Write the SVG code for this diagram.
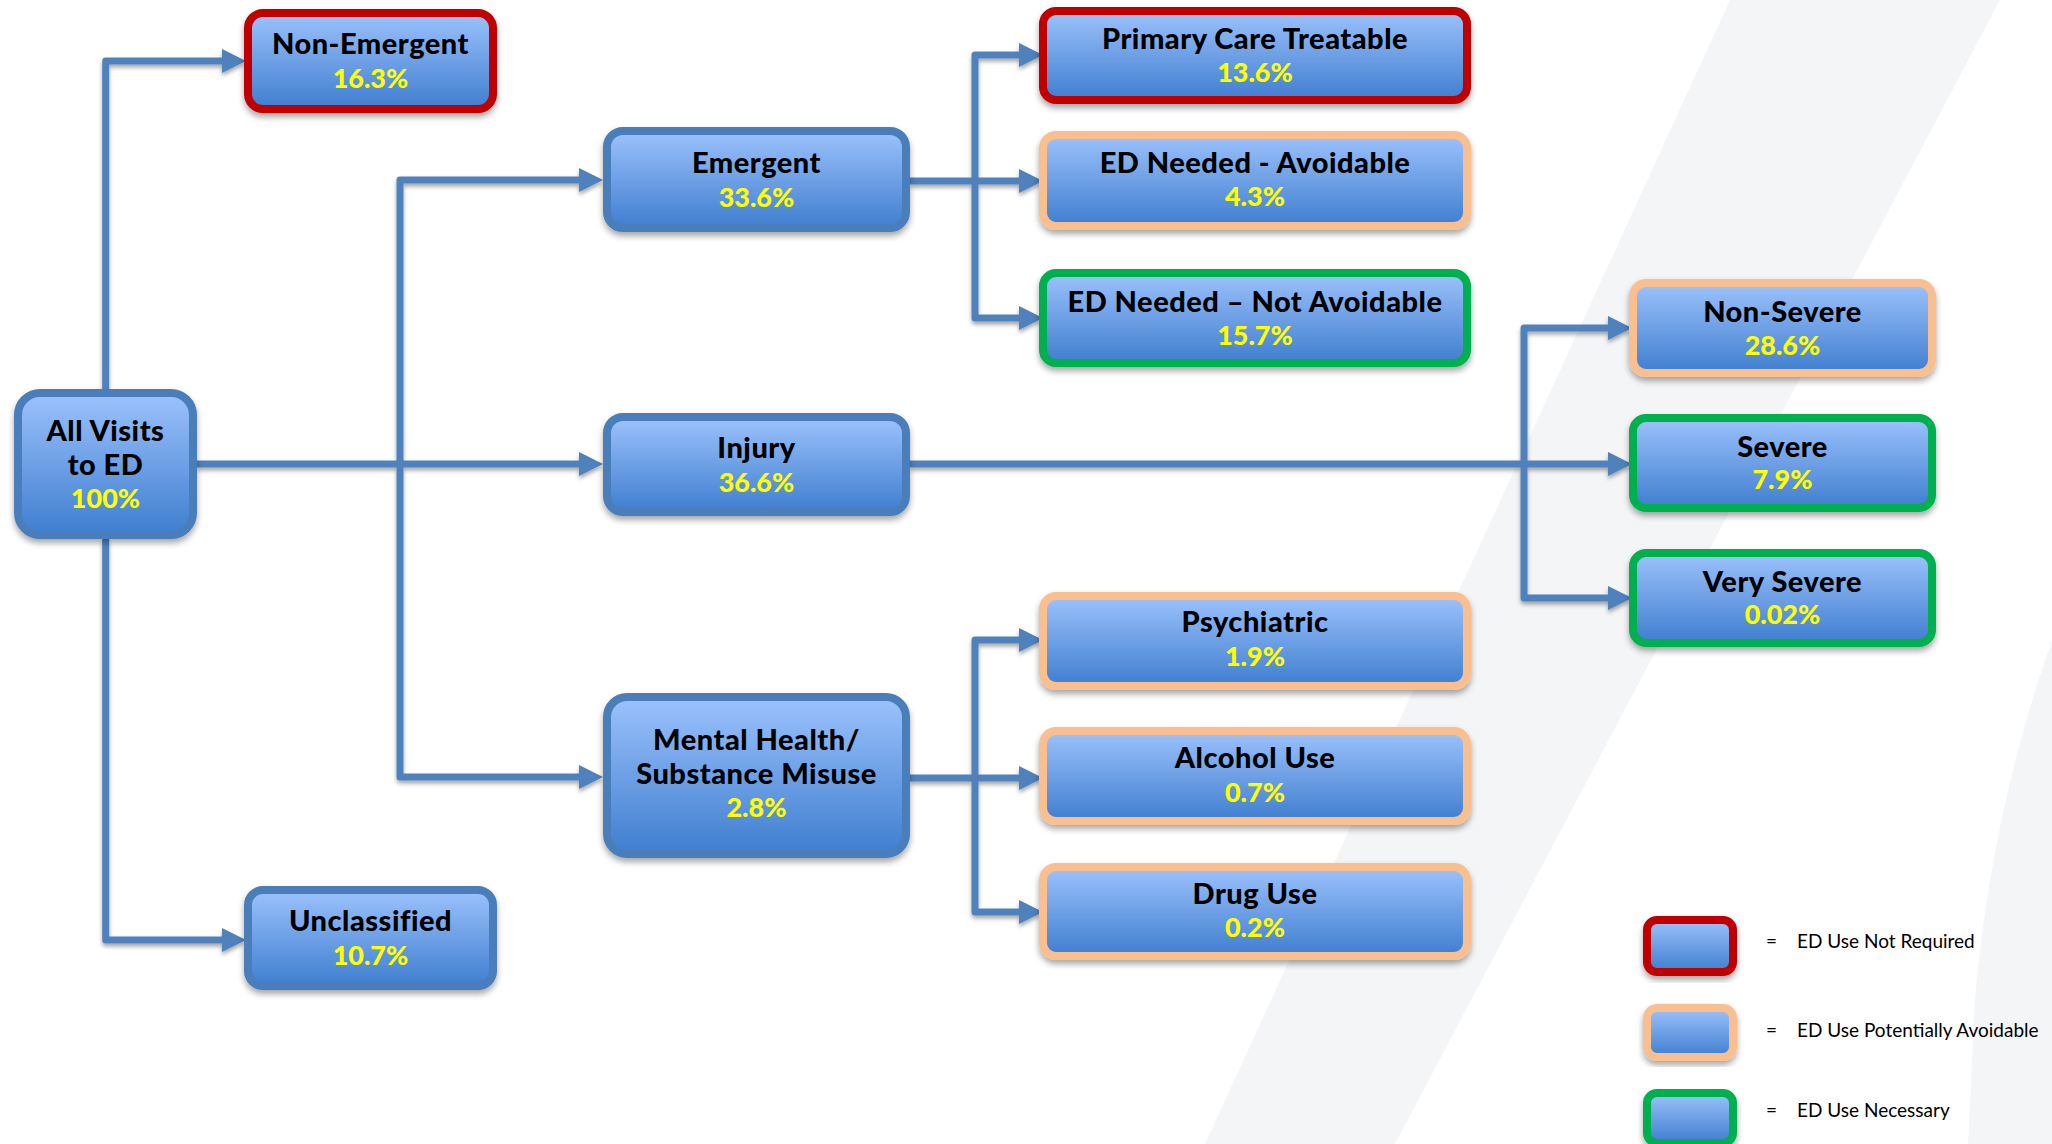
<svg xmlns="http://www.w3.org/2000/svg" width="2052" height="1144" viewBox="0 0 2052 1144">
<defs>
<linearGradient id="fillg" x1="0" y1="0" x2="0" y2="1">
<stop offset="0" stop-color="#9cc2fc"/>
<stop offset="1" stop-color="#3f7ecf"/>
</linearGradient>
<filter id="shadow" x="-10%" y="-10%" width="120%" height="130%">
<feDropShadow dx="0" dy="4" stdDeviation="3" flood-color="#000" flood-opacity="0.35"/>
</filter>
<filter id="lshadow" x="-5%" y="-5%" width="110%" height="110%">
<feDropShadow dx="0" dy="3" stdDeviation="2" flood-color="#000" flood-opacity="0.35"/>
</filter>
<marker id="arrow" markerUnits="userSpaceOnUse" markerWidth="24" markerHeight="24" refX="10" refY="12" orient="auto">
<path d="M0,0 L24,12 L0,24 Z" fill="#4f81bd"/>
</marker>
<style>
.box{fill:url(#fillg);stroke-width:8;filter:url(#shadow)}
.blue{stroke:#4a7ebb}
.red{stroke:#c00000}
.peach{stroke:#f9bf8f}
.green{stroke:#00b050}
.t{font-family:Lato,"Open Sans","Liberation Sans",sans-serif;font-weight:900;font-size:29px;letter-spacing:0.5px;text-anchor:middle;fill:#000}
.p{font-family:Lato,"Open Sans","Liberation Sans",sans-serif;font-weight:900;font-size:27px;text-anchor:middle;fill:#ffff00}
.lg{font-family:Lato,"Open Sans","Liberation Sans",sans-serif;font-size:19px;fill:#000}
.c{fill:none;stroke:#4f81bd;stroke-width:7;stroke-linejoin:round}
.ca{marker-end:url(#arrow)}
</style>
</defs>
<rect x="0" y="0" width="2052" height="1144" fill="#ffffff"/>
<g id="background">
<polygon points="1730,0 2000,0 1395,1144 1205,1144" fill="#f4f5f7"/>
<path d="M2052,640 C2010,760 1985,880 1975,1000 L1968,1144 L2052,1144 Z" fill="#f4f5f7"/>
</g>
<g id="connectors" filter="url(#lshadow)">
<path class="c ca" d="M105.7,393 V61 H232"/>
<path class="c ca" d="M105.7,539 V940 H232"/>
<path class="c ca" d="M197,464 H589"/>
<path class="c ca" d="M400,464 V180 H589"/>
<path class="c ca" d="M400,464 V777 H589"/>
<path class="c ca" d="M910,181 H1029"/>
<path class="c ca" d="M975,181 V55 H1029"/>
<path class="c ca" d="M975,181 V318 H1029"/>
<path class="c ca" d="M910,464 H1618"/>
<path class="c ca" d="M1524,464 V328 H1618"/>
<path class="c ca" d="M1524,464 V598 H1618"/>
<path class="c ca" d="M910,778 H1029"/>
<path class="c ca" d="M975,778 V640 H1029"/>
<path class="c ca" d="M975,778 V912 H1029"/>
</g>
<g id="all-visits">
<rect class="box blue" x="18" y="393" width="175" height="142" rx="22"/>
<text class="t" x="105.5" y="441">All Visits</text>
<text class="t" x="105.5" y="475">to ED</text>
<text class="p" x="105.5" y="508">100%</text>
</g>
<g id="non-emergent">
<rect class="box red" x="248" y="13" width="245" height="96" rx="15"/>
<text class="t" x="370.5" y="54">Non-Emergent</text>
<text class="p" x="370.5" y="87.5">16.3%</text>
</g>
<g id="unclassified">
<rect class="box blue" x="248" y="890" width="245" height="96" rx="15"/>
<text class="t" x="370.5" y="931">Unclassified</text>
<text class="p" x="370.5" y="965">10.7%</text>
</g>
<g id="emergent">
<rect class="box blue" x="607" y="131" width="299" height="97" rx="16"/>
<text class="t" x="756.5" y="173">Emergent</text>
<text class="p" x="756.5" y="207">33.6%</text>
</g>
<g id="injury">
<rect class="box blue" x="607" y="417" width="299" height="95" rx="16"/>
<text class="t" x="756.5" y="458">Injury</text>
<text class="p" x="756.5" y="492">36.6%</text>
</g>
<g id="mental-health">
<rect class="box blue" x="607" y="697" width="299" height="157" rx="20"/>
<text class="t" x="756.5" y="750">Mental Health/</text>
<text class="t" x="756.5" y="784">Substance Misuse</text>
<text class="p" x="756.5" y="817">2.8%</text>
</g>
<g id="primary-care">
<rect class="box red" x="1043" y="11" width="424" height="89" rx="13"/>
<text class="t" x="1255" y="49">Primary Care Treatable</text>
<text class="p" x="1255" y="82">13.6%</text>
</g>
<g id="ed-avoidable">
<rect class="box peach" x="1043" y="135" width="424" height="91" rx="13"/>
<text class="t" x="1255" y="173">ED Needed - Avoidable</text>
<text class="p" x="1255" y="206">4.3%</text>
</g>
<g id="ed-not-avoidable">
<rect class="box green" x="1043" y="273" width="424" height="90" rx="13"/>
<text class="t" x="1255" y="312">ED Needed – Not Avoidable</text>
<text class="p" x="1255" y="345">15.7%</text>
</g>
<g id="psychiatric">
<rect class="box peach" x="1043" y="596" width="424" height="90" rx="13"/>
<text class="t" x="1255" y="632">Psychiatric</text>
<text class="p" x="1255" y="666">1.9%</text>
</g>
<g id="alcohol-use">
<rect class="box peach" x="1043" y="731" width="424" height="90" rx="13"/>
<text class="t" x="1255" y="768">Alcohol Use</text>
<text class="p" x="1255" y="802">0.7%</text>
</g>
<g id="drug-use">
<rect class="box peach" x="1043" y="867" width="424" height="89" rx="13"/>
<text class="t" x="1255" y="904">Drug Use</text>
<text class="p" x="1255" y="937">0.2%</text>
</g>
<g id="non-severe">
<rect class="box peach" x="1633" y="283" width="299" height="90" rx="13"/>
<text class="t" x="1782.5" y="322">Non-Severe</text>
<text class="p" x="1782.5" y="355">28.6%</text>
</g>
<g id="severe">
<rect class="box green" x="1633" y="418" width="299" height="90" rx="13"/>
<text class="t" x="1782.5" y="457">Severe</text>
<text class="p" x="1782.5" y="489">7.9%</text>
</g>
<g id="very-severe">
<rect class="box green" x="1633" y="553" width="299" height="90" rx="13"/>
<text class="t" x="1782.5" y="592">Very Severe</text>
<text class="p" x="1782.5" y="624">0.02%</text>
</g>
<g id="legend">
<rect class="box red" x="1647" y="920" width="86" height="52" rx="10"/>
<text class="lg" x="1766" y="948">=</text>
<text class="lg" x="1797" y="948">ED Use Not Required</text>
<rect class="box peach" x="1647" y="1008" width="86" height="49" rx="10"/>
<text class="lg" x="1766" y="1037">=</text>
<text class="lg" x="1797" y="1037">ED Use Potentially Avoidable</text>
<rect class="box green" x="1647" y="1093" width="86" height="50" rx="10"/>
<text class="lg" x="1766" y="1117">=</text>
<text class="lg" x="1797" y="1117">ED Use Necessary</text>
</g>
</svg>
